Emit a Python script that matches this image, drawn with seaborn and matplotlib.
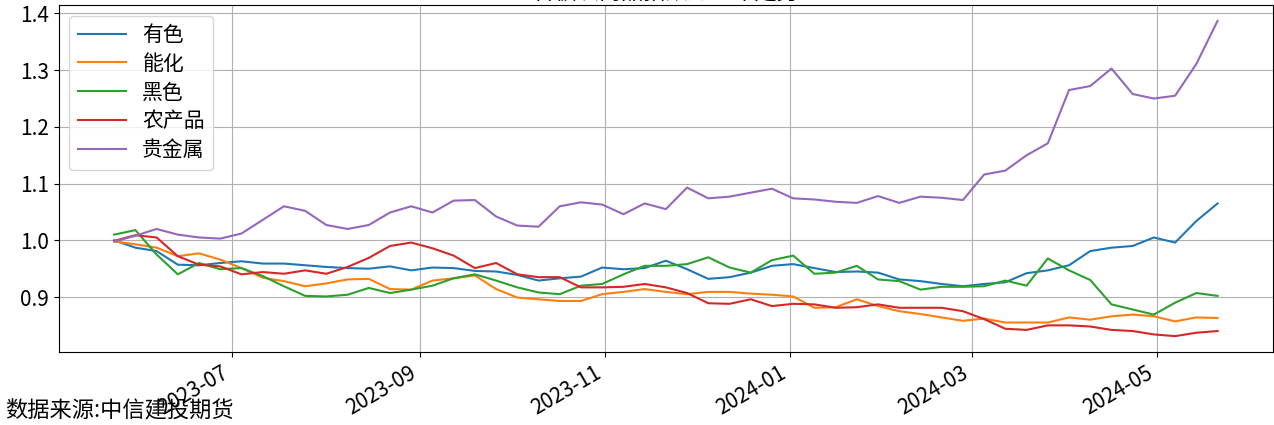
import matplotlib
matplotlib.use("Agg")
import matplotlib.pyplot as plt
import matplotlib.dates as mdates
import seaborn as sns
import pandas as pd

# weekly observations (Tuesdays) from 2023-05-23 to 2024-05-21
dates = pd.date_range("2023-05-23", "2024-05-21", freq="W-TUE")

youse = [1.000, 0.987, 0.981, 0.957, 0.956, 0.960, 0.963, 0.959, 0.959, 0.956,
         0.953, 0.951, 0.950, 0.954, 0.947, 0.952, 0.951, 0.946, 0.945, 0.939,
         0.929, 0.933, 0.936, 0.952, 0.949, 0.951, 0.964, 0.949, 0.932, 0.935,
         0.943, 0.955, 0.958, 0.951, 0.944, 0.945, 0.943, 0.931, 0.928, 0.923,
         0.919, 0.923, 0.926, 0.942, 0.947, 0.956, 0.981, 0.987, 0.990, 1.005,
         0.996, 1.034, 1.065]
nenghua = [0.998, 0.993, 0.987, 0.972, 0.977, 0.966, 0.951, 0.934, 0.928, 0.919,
           0.924, 0.931, 0.932, 0.914, 0.913, 0.929, 0.933, 0.938, 0.914, 0.899,
           0.896, 0.893, 0.893, 0.905, 0.909, 0.914, 0.909, 0.905, 0.909, 0.909,
           0.906, 0.904, 0.901, 0.881, 0.882, 0.896, 0.884, 0.875, 0.870, 0.864,
           0.858, 0.862, 0.855, 0.855, 0.855, 0.864, 0.860, 0.866, 0.869, 0.866,
           0.857, 0.864, 0.863]
heise = [1.010, 1.018, 0.975, 0.940, 0.960, 0.949, 0.951, 0.937, 0.919, 0.902,
         0.901, 0.904, 0.916, 0.907, 0.913, 0.920, 0.933, 0.940, 0.929, 0.917,
         0.908, 0.905, 0.920, 0.923, 0.940, 0.955, 0.955, 0.958, 0.970, 0.952,
         0.943, 0.965, 0.973, 0.941, 0.943, 0.955, 0.931, 0.928, 0.913, 0.918,
         0.918, 0.919, 0.929, 0.920, 0.968, 0.947, 0.930, 0.887, 0.878, 0.869,
         0.890, 0.907, 0.902]
nongchanpin = [0.999, 1.009, 1.005, 0.972, 0.957, 0.954, 0.940, 0.944, 0.941, 0.947,
               0.941, 0.953, 0.969, 0.990, 0.996, 0.986, 0.973, 0.951, 0.960, 0.940,
               0.935, 0.935, 0.917, 0.917, 0.918, 0.923, 0.917, 0.907, 0.889, 0.888,
               0.896, 0.884, 0.888, 0.887, 0.881, 0.882, 0.887, 0.881, 0.881, 0.881,
               0.875, 0.861, 0.844, 0.842, 0.850, 0.850, 0.848, 0.842, 0.840, 0.834,
               0.831, 0.837, 0.840]
guijinshu = [0.998, 1.008, 1.020, 1.010, 1.005, 1.003, 1.012, 1.036, 1.060, 1.052,
             1.027, 1.020, 1.027, 1.049, 1.060, 1.049, 1.070, 1.071, 1.042, 1.026,
             1.024, 1.060, 1.067, 1.063, 1.046, 1.065, 1.055, 1.093, 1.074, 1.077,
             1.084, 1.091, 1.074, 1.072, 1.068, 1.066, 1.078, 1.066, 1.077, 1.075,
             1.071, 1.116, 1.123, 1.150, 1.171, 1.265, 1.272, 1.303, 1.258, 1.250,
             1.255, 1.311, 1.387]

series_names = ["有色", "能化", "黑色", "农产品", "贵金属"]
series_values = [youse, nenghua, heise, nongchanpin, guijinshu]

title_text = "各板块商品指数近一年走势"
source_text = "数据来源:中信建投期货"

rows = []
for name, vals in zip(series_names, series_values):
    for d, v in zip(dates, vals):
        rows.append({"date": d, "value": v, "sector": name})
df = pd.DataFrame(rows)

plt.rcParams["font.family"] = ["Noto Sans CJK SC", "DejaVu Sans"]
plt.rcParams["axes.unicode_minus"] = False

fig = plt.figure(figsize=(12.74, 4.25), dpi=100)
ax = fig.add_axes([0.0463, 0.172, 0.9527, 0.816])

sns.lineplot(data=df, x="date", y="value", hue="sector", hue_order=series_names,
             palette=sns.color_palette("tab10", 5), linewidth=1.5, ax=ax)

ax.grid(True, color="#b0b0b0", linewidth=0.8)
ax.set_xlabel("")
ax.set_ylabel("")
ax.xaxis.set_major_locator(mdates.MonthLocator(bymonth=[1, 3, 5, 7, 9, 11]))
ax.xaxis.set_major_formatter(mdates.DateFormatter("%Y-%m"))
ax.tick_params(axis="both", labelsize=15)
for lab in ax.get_xticklabels():
    lab.set_rotation(30)
    lab.set_ha("right")
ax.set_title(title_text, fontsize=16, pad=3)

leg = ax.legend(loc="upper left", fontsize=15, handlelength=2.3, labelspacing=0.33)

fig.text(0.004, 0.032, source_text, fontsize=16, ha="left", va="center")

fig.savefig("out.png", dpi=100)
